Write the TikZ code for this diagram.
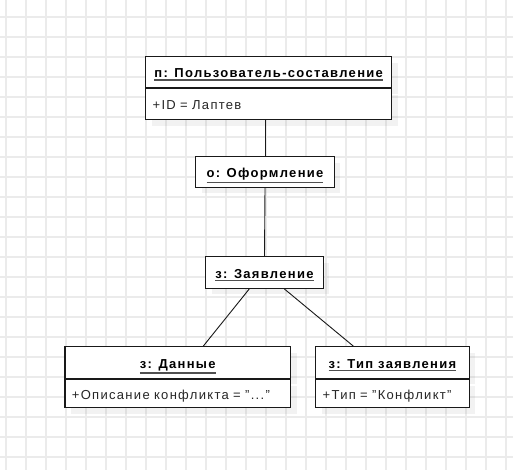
\documentclass[tikz,border=0pt]{standalone}
\usepackage{fontspec}
\setmainfont{Liberation Sans}[LetterSpace=10]
\usetikzlibrary{calc, positioning, shadows}
\definecolor{gridgray}{RGB}{235, 235, 235}
\definecolor{ulgray}{RGB}{80, 80, 80}
\newcommand{\objname}[1]{\vtop{\hbox{\bfseries #1}\kern1.6pt
    {\color{ulgray}\hrule height 1.4pt}}}
\tikzset{
    gridline/.style={draw=gridgray, line width=1.2pt},
    objbox/.style={draw=black!90, fill=white, line width=1.2pt, inner sep=0pt,
        text height=11pt, text depth=0pt,
        drop shadow={shadow xshift=6pt, shadow yshift=-6pt, fill=black,
            opacity=.05}},
    objhead/.style={objbox, font=\fontsize{13}{15}\selectfont},
    objattr/.style={objbox, inner xsep=7pt, align=left,
        font=\fontsize{13}{15}\selectfont, text=black!85},
    link/.style={draw=black!90, line width=.9pt},
}

\begin{document}
\begin{tikzpicture}[x=1pt, y=-1pt]
            \useasboundingbox (0, 0) rectangle (513, 470);
            \fill[white] (0, 0) rectangle (513, 470);
            \foreach \gx in {6, 26, ..., 506}
                \draw[gridline] (\gx, 0) -- (\gx, 470);
            \foreach \gy in {17, 37, ..., 457}
                \draw[gridline] (0, \gy) -- (513, \gy);
            % objects
            \node[objhead, minimum width=246pt, minimum height=31pt] (user)
                at (268.7, 72.2) {\objname{п: Пользователь-составление}};
            \node[objattr, anchor=north, text width=232pt,
                minimum height=31pt] (userattr) at (user.south)
                {+ID = Лаптев};
            \node[objhead, minimum width=138.6pt, minimum height=30.6pt]
                (form) at (265, 172) {\objname{о: Оформление}};
            \node[objhead, minimum width=117.6pt, minimum height=31.6pt]
                (claim) at (264.5, 272.5) {\objname{з: Заявление}};
            \node[objhead, minimum width=225.7pt, minimum height=31.6pt]
                (data) at (177.8, 362.5) {\objname{з: Данные}};
            \node[objattr, anchor=north, text width=211.7pt,
                minimum height=28pt] (dataattr) at (data.south)
                {+Описание конфликта = "..."};
            \node[objhead, minimum width=153.6pt, minimum height=31.6pt]
                (kind) at (392.5, 362.5) {\objname{з: Тип заявления}};
            \node[objattr, anchor=north, text width=139.6pt,
                minimum height=28pt] (kindattr) at (kind.south)
                {+Тип = "Конфликт"};
            % links
            \draw[link] (userattr.south -| form.north) -- (form.north);
            \draw[link] (form.south) -- (claim.north);
            \draw[link] ($(claim.south)+(-15.2, 0)$) --
                ($(data.north)+(25.5, 0)$);
            \draw[link] ($(claim.south)+(19.8, 0)$) --
                ($(kind.north)+(-39.2, 0)$);
        \end{tikzpicture}
\end{document}
